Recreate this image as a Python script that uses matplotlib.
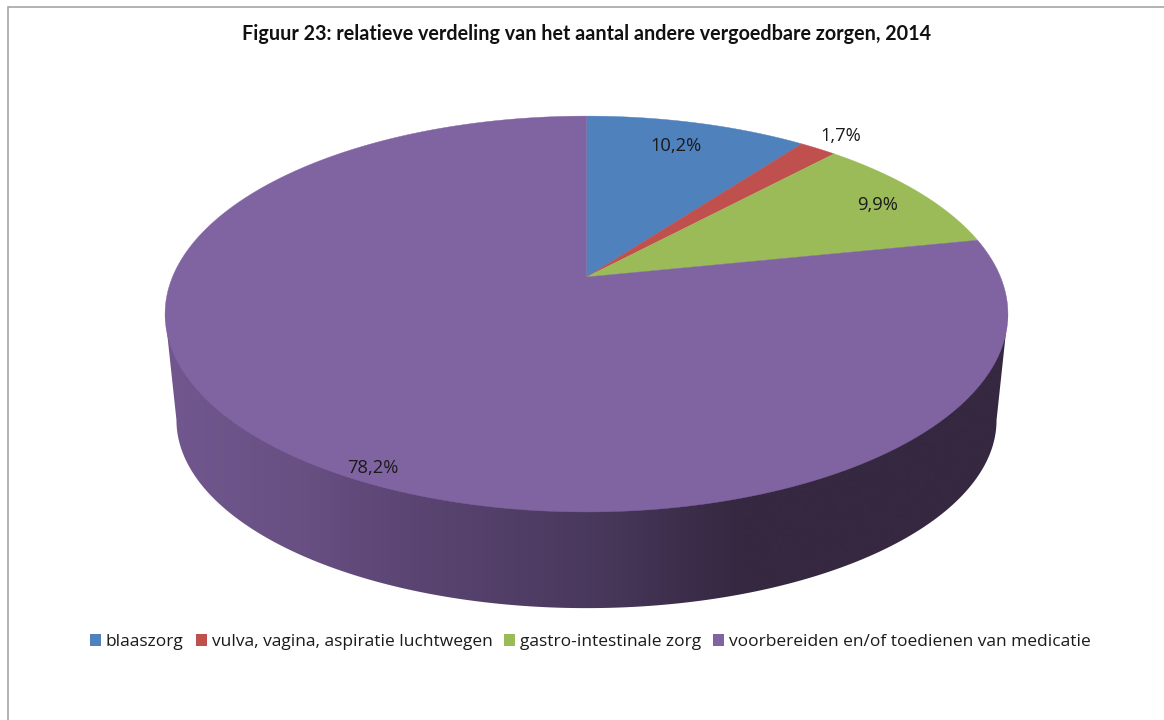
import numpy as np
import matplotlib
matplotlib.use("Agg")
import matplotlib.pyplot as plt
from matplotlib.patches import Patch, Polygon, Rectangle

title = "Figuur 23: relatieve verdeling van het aantal andere vergoedbare zorgen, 2014"
categories = ["blaaszorg", "vulva, vagina, aspiratie luchtwegen",
              "gastro-intestinale zorg", "voorbereiden en/of toedienen van medicatie"]
values = [10.2, 1.7, 9.9, 78.2]
value_labels = ["10,2%", "1,7%", "9,9%", "78,2%"]
colors = ["#4f81bd", "#c0504d", "#9bbb59", "#8064a2"]

# layout, in pixels of the 1164x720 picture
label_pos = [(676, 146), (841, 136), (878, 205), (373, 468)]
CX = 586.5
TOP = dict(y0=277, a=414, b=191)
BOTTOM = dict(y0=385, a=402.8, b=181.4)
K = 0.187  # perspective of the disc
SILHOUETTE = np.arccos(-K)  # where the disc is widest on screen

# shading of the rim from left to right
rim_x = [165, 300, 400, 586, 740, 1010]
rim_rgb = np.array([[113, 87, 142], [104, 80, 131], [92, 70, 116],
                    [74, 57, 94], [53, 40, 64], [53, 40, 64]]) / 255


def project(angle, disc):
    # angle clockwise from the top of the pie, in radians
    u = np.sin(angle)
    v = np.cos(angle)
    w = 1 + K * v
    return CX + disc["a"] * u / w, disc["y0"] - disc["b"] * v / w


fig = plt.figure(figsize=(11.64, 7.2), dpi=100)
ax = fig.add_axes([0, 0, 1, 1])
ax.axis("off")

ax.add_patch(Rectangle((8, 7), 1300, 900, fc="white", ec="#a6a6a6", lw=1.2))

# rim: horizontal gradient clipped to the outline of the cylinder
grad_x = np.arange(165, 1011)
grad = np.stack([np.interp(grad_x, rim_x, rim_rgb[:, i]) for i in range(3)], axis=-1)[np.newaxis, :, :]
img = ax.imshow(grad, extent=(165, 1010, 620, 200), aspect="auto", interpolation="bilinear", zorder=2)
t = np.linspace(SILHOUETTE, 2 * np.pi - SILHOUETTE, 400)
bx, by = project(t, BOTTOM)
tx, ty = project(np.array([2 * np.pi - SILHOUETTE, SILHOUETTE]), TOP)
outline = Polygon(list(zip(bx, by)) + list(zip(tx, ty)), fc="none", ec="none")
ax.add_patch(outline)
img.set_clip_path(outline)

ax.set_xlim(0, 1164)
ax.set_ylim(720, 0)

# top face
edges = np.cumsum([0] + values) / sum(values) * 2 * np.pi
for start, end, col in zip(edges[:-1], edges[1:], colors):
    t = np.linspace(start, end, 300)
    xs, ys = project(t, TOP)
    pts = [(CX, TOP["y0"])] + list(zip(xs, ys))
    ax.add_patch(Polygon(pts, fc=col, ec=col, lw=0.3, zorder=3))

for (x, y), lab in zip(label_pos, value_labels):
    ax.text(x, y, lab, ha="center", va="center", fontsize=13.2, family="Open Sans",
            color="#1a1a1a", zorder=5)

ax.text(586.5, 33.5, title, ha="center", va="center", fontsize=14.2, family="Lato",
        fontweight="bold", color="#111111")

handles = [Patch(fc=c, ec="none") for c in colors]
leg = ax.legend(handles, categories, ncol=4, loc="center", bbox_to_anchor=(590.5 / 1164, 1 - 642 / 720),
                frameon=False, handlelength=0.63, handleheight=0.63,
                handletextpad=0.29, columnspacing=0.69,
                prop=dict(family="Open Sans", size=12.5))
for txt in leg.get_texts():
    txt.set_color("#1a1a1a")

fig.savefig("out.png", dpi=100)
